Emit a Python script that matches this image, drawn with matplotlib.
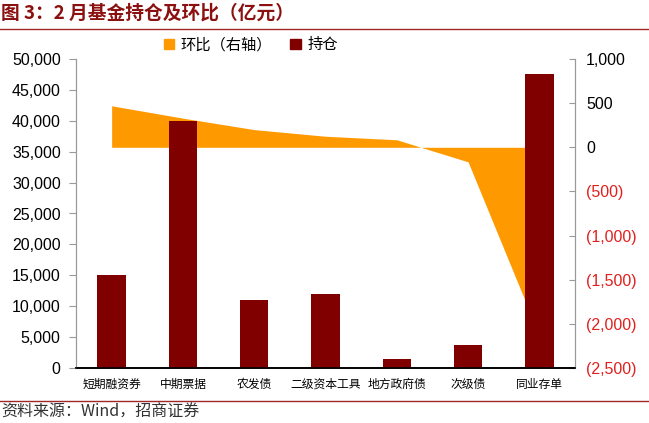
import matplotlib.pyplot as plt
from matplotlib.lines import Line2D
from matplotlib.patches import Patch
from matplotlib.ticker import FuncFormatter

plt.rcParams['font.family'] = ['Liberation Sans', 'Noto Sans CJK SC', 'DejaVu Sans']

categories = ['短期融资券', '中期票据', '农发债', '二级资本工具', '地方政府债', '次级债', '同业存单']
holdings = [15000, 40000, 11000, 12000, 1400, 3700, 47500]   # 持仓 (left)
mom_change = [470, 330, 200, 125, 85, -165, -2130]           # 环比 (right)

orange = '#FF9900'
darkred = '#800000'
cjk = ['Noto Sans CJK SC', 'DejaVu Sans']

fig = plt.figure(figsize=(6.49, 4.23), dpi=100)
ax = fig.add_axes([76/649, 1 - 368/423, (575-76)/649, (368-59)/423])
ax2 = ax.twinx()

x = list(range(len(categories)))

# area on the right axis, drawn behind the bars
ax2.fill_between(x, 0, mom_change, color=orange, linewidth=0)
ax2.set_ylim(-2500, 1000)
ax2.set_yticks(range(-2500, 1001, 500))

def paren_fmt(v, pos):
    if v < 0:
        return '({:,.0f})'.format(-v)
    return '{:,.0f}'.format(v)

ax2.yaxis.set_major_formatter(FuncFormatter(paren_fmt))
for lab, v in zip(ax2.get_yticklabels(), ax2.get_yticks()):
    lab.set_color('#E0201E' if v < 0 else 'black')
ax2.tick_params(axis='y', direction='in', length=4, color='#999999', labelsize=11.5, pad=8)

# bars on the left axis, put the left axes on top
ax.set_zorder(ax2.get_zorder() + 1)
ax.patch.set_visible(False)
ax.bar(x, holdings, width=0.4, color=darkred)
ax.set_ylim(0, 50000)
ax.set_xlim(-0.5, 6.5)
ax.set_yticks(range(0, 50001, 5000))
ax.yaxis.set_major_formatter(FuncFormatter(lambda v, p: '{:,.0f}'.format(v)))
ax.tick_params(axis='y', direction='out', length=5, color='#999999', labelsize=11.5, pad=6)
ax.set_xticks(x)
ax.set_xticklabels(categories, fontsize=8.5, family=cjk)
ax.tick_params(axis='x', length=0, pad=7)

for a in (ax, ax2):
    a.spines['top'].set_visible(False)
    a.spines['left'].set_color('#999999')
    a.spines['right'].set_color('#999999')
    a.spines['bottom'].set_color('black')
    a.spines['bottom'].set_linewidth(1.2)

handles = [Patch(color=orange, label='环比（右轴）'), Patch(color=darkred, label='持仓')]
fig.legend(handles=handles, loc='center left', bbox_to_anchor=(150/649, 1 - 45/423),
           ncol=2, frameon=False, prop={'family': cjk, 'size': 11},
           handlelength=0.7, handleheight=0.7, handletextpad=0.4, columnspacing=1.2)

# title, rules and source
fig.text(1/649, 1 - 13/423, '图 3：2 月基金持仓及环比（亿元）', family=cjk, fontsize=13.5,
         weight='bold', color='#8B1010', va='center', ha='left')
fig.add_artist(Line2D([0, 1], [1 - 29/423, 1 - 29/423], color='#A0282A', linewidth=1.0))
fig.add_artist(Line2D([0, 1], [1 - 401/423, 1 - 401/423], color='#A0282A', linewidth=1.0))
fig.text(1/649, 1 - 412/423, '资料来源：Wind，招商证券', family=cjk, fontsize=11.5,
         color='#333333', va='center', ha='left')

fig.savefig('out.png', dpi=100)
